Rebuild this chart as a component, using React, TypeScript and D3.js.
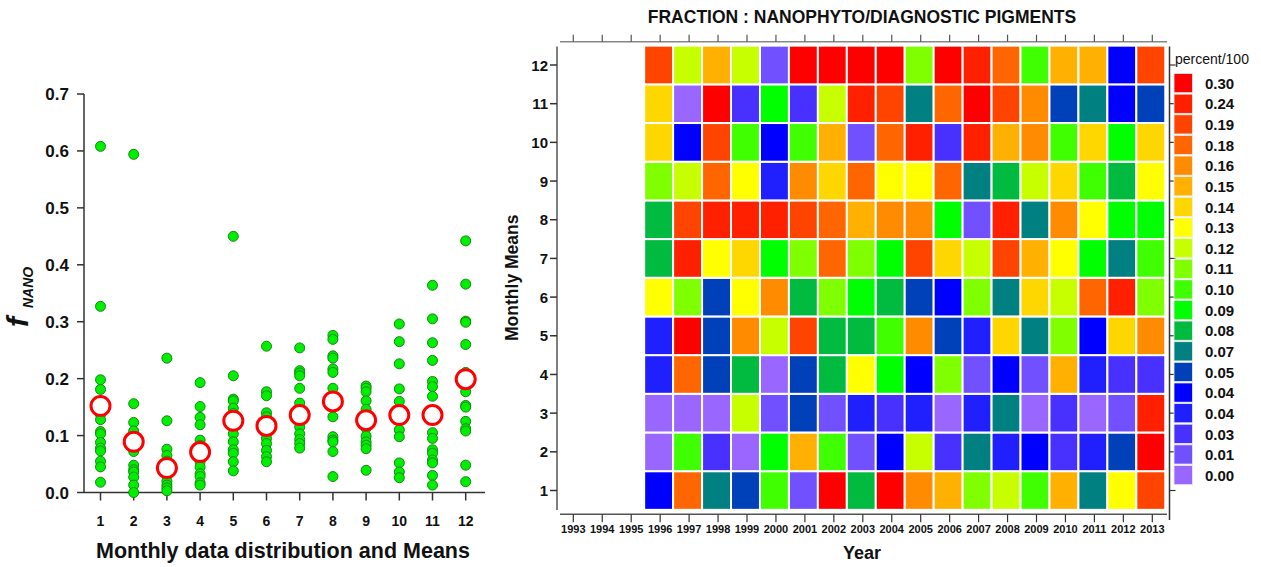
import * as d3 from "d3";

const FONT = "'Liberation Sans', Arial, sans-serif";

// ---- left panel: monthly fNANO distribution ----
const MONTHS = d3.range(1, 13);
const LEFT_Y_TICKS = [0, 0.1, 0.2, 0.3, 0.4, 0.5, 0.6, 0.7];

const JAN = [0.608, 0.327, 0.198, 0.181, 0.145, 0.137, 0.128, 0.107, 0.103, 0.088, 0.078, 0.073, 0.055, 0.045, 0.018];
const FEB = [0.594, 0.156, 0.123, 0.108, 0.095, 0.078, 0.072, 0.048, 0.04, 0.036, 0.027, 0.013, 0.0];
const MAR = [0.236, 0.126, 0.076, 0.065, 0.055, 0.03, 0.02, 0.013, 0.008, 0.003];
const APR = [0.193, 0.151, 0.132, 0.119, 0.092, 0.083, 0.054, 0.045, 0.033, 0.028, 0.017, 0.013];
const MAY = [0.45, 0.205, 0.164, 0.161, 0.148, 0.139, 0.115, 0.103, 0.089, 0.075, 0.069, 0.054, 0.038];
const JUN = [0.257, 0.177, 0.17, 0.14, 0.133, 0.104, 0.095, 0.086, 0.074, 0.063, 0.054];
const JUL = [0.254, 0.214, 0.21, 0.205, 0.183, 0.157, 0.124, 0.115, 0.103, 0.093, 0.086, 0.078];
const AUG = [0.276, 0.269, 0.24, 0.236, 0.217, 0.211, 0.183, 0.133, 0.098, 0.092, 0.089, 0.072, 0.028];
const SEP = [0.187, 0.183, 0.177, 0.161, 0.146, 0.113, 0.099, 0.089, 0.083, 0.077, 0.039];
const OCT = [0.296, 0.265, 0.226, 0.182, 0.16, 0.11, 0.098, 0.052, 0.036, 0.026];
const NOV = [0.364, 0.305, 0.263, 0.232, 0.195, 0.186, 0.169, 0.105, 0.095, 0.075, 0.069, 0.057, 0.052, 0.03, 0.013];
const DEC = [0.442, 0.366, 0.301, 0.299, 0.26, 0.211, 0.177, 0.153, 0.15, 0.125, 0.112, 0.108, 0.048, 0.019];
const MONTH_POINTS = [JAN, FEB, MAR, APR, MAY, JUN, JUL, AUG, SEP, OCT, NOV, DEC];
const MONTH_MEANS = [0.152, 0.089, 0.043, 0.071, 0.126, 0.117, 0.136, 0.16, 0.127, 0.136, 0.136, 0.199];

// ---- right panel: year x month colour classes ----
const AXIS_YEARS = d3.range(1993, 2014);
const DATA_YEARS = d3.range(1996, 2014);
const LEVEL_LABELS = ["0.00", "0.01", "0.03", "0.04", "0.04", "0.05", "0.07", "0.08", "0.09", "0.10",
  "0.11", "0.12", "0.13", "0.14", "0.15", "0.16", "0.18", "0.19", "0.24", "0.30"];
const LEVEL_COLORS = ["#9966ff", "#7050ff", "#4830ff", "#2020ff", "#0000ff", "#0040b8", "#008080", "#00bb40",
  "#00ff00", "#40ff00", "#80ff00", "#c8ff00", "#ffff00", "#ffd700", "#ffb000", "#ff8c00", "#ff6600",
  "#ff4400", "#ff2000", "#ff0000"];
// class index per cell; one row per month (1..12), columns 1996..2013
const M01 = [4, 16, 6, 5, 9, 1, 19, 7, 19, 15, 14, 10, 11, 9, 14, 6, 12, 17];
const M02 = [0, 9, 2, 0, 8, 14, 9, 1, 4, 11, 2, 6, 3, 4, 2, 3, 5, 19];
const M03 = [0, 0, 0, 11, 1, 5, 1, 3, 2, 3, 0, 3, 6, 0, 2, 0, 1, 18];
const M04 = [3, 16, 5, 7, 0, 5, 7, 12, 8, 4, 10, 1, 4, 1, 14, 3, 2, 2];
const M05 = [3, 19, 5, 15, 11, 17, 7, 7, 9, 15, 5, 3, 13, 6, 10, 4, 13, 15];
const M06 = [12, 10, 5, 12, 15, 7, 10, 8, 7, 5, 4, 10, 6, 13, 11, 16, 18, 10];
const M07 = [7, 18, 12, 13, 8, 10, 16, 10, 8, 17, 13, 11, 17, 14, 12, 8, 6, 9];
const M08 = [7, 17, 18, 18, 18, 17, 16, 14, 15, 15, 8, 1, 18, 6, 15, 12, 8, 8];
const M09 = [10, 11, 16, 12, 3, 15, 13, 16, 12, 12, 16, 6, 7, 11, 13, 9, 7, 12];
const M10 = [13, 4, 17, 9, 4, 9, 14, 1, 16, 18, 2, 18, 14, 15, 9, 13, 8, 13];
const M11 = [13, 0, 19, 2, 8, 2, 11, 18, 17, 6, 16, 19, 17, 15, 5, 6, 4, 5];
const M12 = [17, 11, 14, 11, 1, 19, 19, 19, 19, 10, 19, 18, 16, 9, 14, 14, 4, 17];
const HEAT_ROWS = [M01, M02, M03, M04, M05, M06, M07, M08, M09, M10, M11, M12];

export default function App() {
  const W = 1261;
  const H = 567;

  // left scales
  const xL = d3.scaleLinear().domain([1, 12]).range([100.5, 465.7]);
  const yL = d3.scaleLinear().domain([0, 0.7]).range([492.5, 94]);
  const leftAxisX = 84;

  // right scales
  const xR = d3.scaleLinear().domain([1993, 2013]).range([573.3, 1152.3]);
  const yR = d3.scaleLinear().domain([1, 12]).range([490.5, 65]);
  const cw = xR(1994) - xR(1993);
  const ch = yR(1) - yR(2);
  const rLeft = 557;
  const rRight = 1169.5;
  const rTop = 41.7;
  const rBottom = 514.3;

  const legendY = d3.scaleBand<number>()
    .domain(d3.range(19, -1, -1))
    .range([73.5, 73.5 + 20 * 20.63]);

  return (
    <svg width={W} height={H} style={{ position: "absolute", left: 0, top: 0, background: "#fff" }}
      fontFamily={FONT}>
      {/* ---------- left panel ---------- */}
      <line x1={leftAxisX} x2={leftAxisX} y1={yL(0.7)} y2={yL(0)} stroke="#333" strokeWidth={1.5} />
      <line x1={leftAxisX} x2={485} y1={yL(0)} y2={yL(0)} stroke="#333" strokeWidth={1.5} />
      {LEFT_Y_TICKS.map((t) => (
        <g key={t}>
          <line x1={leftAxisX - 7} x2={leftAxisX} y1={yL(t)} y2={yL(t)} stroke="#333" strokeWidth={1.5} />
          <text x={69} y={yL(t) + 6} textAnchor="end" fontSize={17} fontWeight="bold" fill="#111">
            {t.toFixed(1)}
          </text>
        </g>
      ))}
      {MONTHS.map((m) => (
        <g key={m}>
          <line x1={xL(m)} x2={xL(m)} y1={yL(0)} y2={yL(0) + 8} stroke="#333" strokeWidth={1.5} />
          <text x={xL(m)} y={526} textAnchor="middle" fontSize={14} fontWeight="bold" fill="#111">{m}</text>
        </g>
      ))}
      {MONTH_POINTS.map((pts, i) =>
        pts.map((v, j) => (
          <circle key={`${i}-${j}`} cx={xL(MONTHS[i])} cy={yL(v)} r={5}
            fill="#00ee00" stroke="#138a13" strokeWidth={1} />
        ))
      )}
      {MONTH_MEANS.map((v, i) => (
        <circle key={`mean-${i}`} cx={xL(MONTHS[i])} cy={yL(v)} r={9.5}
          fill="#fff" stroke="#ff0000" strokeWidth={3} />
      ))}
      <text x={283} y={558} textAnchor="middle" fontSize={21.5} fontWeight="bold" fill="#111">
        Monthly data distribution and Means
      </text>
      <text transform="translate(28,327) rotate(-90)" fontSize={30} fontWeight="bold" fontStyle="italic" fill="#111">f</text>
      <text transform="translate(33,308) rotate(-90)" fontSize={14} fontWeight="bold" fontStyle="italic" fill="#111">NANO</text>

      {/* ---------- right panel ---------- */}
      <text x={862} y={22.7} textAnchor="middle" fontSize={17.5} fontWeight="bold" fill="#111">
        FRACTION : NANOPHYTO/DIAGNOSTIC PIGMENTS
      </text>
      {HEAT_ROWS.map((row, mi) =>
        row.map((lvl, yi) => (
          <rect key={`c-${mi}-${yi}`}
            x={xR(DATA_YEARS[yi]) - cw / 2 - 1.5} y={yR(MONTHS[mi]) - ch / 2}
            width={cw} height={ch}
            fill={LEVEL_COLORS[lvl]} stroke="#fff" strokeWidth={2} />
        ))
      )}
      {/* frame */}
      <line x1={560} x2={1167} y1={rTop} y2={rTop} stroke="#888" strokeWidth={1.5} />
      <line x1={560} x2={1167} y1={rBottom} y2={rBottom} stroke="#555" strokeWidth={1.5} />
      <line x1={rLeft} x2={rLeft} y1={46.5} y2={510} stroke="#555" strokeWidth={1.5} />
      <line x1={rRight} x2={rRight} y1={46.5} y2={520} stroke="#333" strokeWidth={1.5} />
      {AXIS_YEARS.map((yr) => (
        <g key={yr}>
          <line x1={xR(yr)} x2={xR(yr)} y1={rTop - 7} y2={rTop} stroke="#555" strokeWidth={1.2} />
          <line x1={xR(yr)} x2={xR(yr)} y1={rBottom} y2={rBottom + 8} stroke="#333" strokeWidth={1.2} />
          <text x={xR(yr)} y={533} textAnchor="middle" fontSize={11} fontWeight="bold" fill="#111">{yr}</text>
        </g>
      ))}
      {MONTHS.map((m) => (
        <g key={`rm-${m}`}>
          <line x1={rLeft - 7} x2={rLeft} y1={yR(m)} y2={yR(m)} stroke="#333" strokeWidth={1.5} />
          <line x1={rRight} x2={rRight + 6} y1={yR(m)} y2={yR(m)} stroke="#333" strokeWidth={1.2} />
          <text x={548} y={yR(m) + 5.5} textAnchor="end" fontSize={15} fontWeight="bold" fill="#111">{m}</text>
        </g>
      ))}
      <text x={862} y={559} textAnchor="middle" fontSize={18} fontWeight="bold" fill="#111">Year</text>
      <text transform={`translate(518,${(yR(1) + yR(12)) / 2}) rotate(-90)`} textAnchor="middle"
        fontSize={17.5} fontWeight="bold" fill="#111">Monthly Means</text>

      {/* legend */}
      <text x={1175} y={63.5} fontSize={14} fill="#111">percent/100</text>
      {legendY.domain().map((lvl) => (
        <g key={`lg-${lvl}`}>
          <rect x={1174} y={legendY(lvl)!} width={18.5} height={legendY.bandwidth() - 1.4}
            fill={LEVEL_COLORS[lvl]} stroke="#eee" strokeWidth={0.8} />
          <text x={1205} y={legendY(lvl)! + legendY.bandwidth() / 2 + 5} fontSize={15}
            fontWeight="bold" fill="#111">{LEVEL_LABELS[lvl]}</text>
        </g>
      ))}
    </svg>
  );
}
